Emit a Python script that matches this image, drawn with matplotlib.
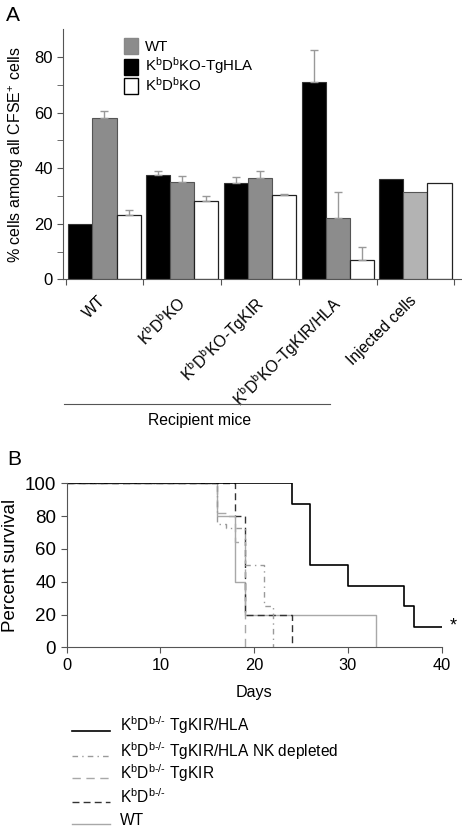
import numpy as np
from matplotlib import pyplot as plt
from matplotlib.lines import Line2D
from matplotlib.patches import Rectangle

plt.rcParams['font.family'] = ['Liberation Sans', 'DejaVu Sans']
plt.rcParams['mathtext.fontset'] = 'custom'
plt.rcParams['mathtext.rm'] = 'Liberation Sans'
plt.rcParams['mathtext.it'] = 'Liberation Sans:italic'
plt.rcParams['font.size'] = 10.5

W, H = 462, 830

# Panel A data
groups = ['WT', r'K$^{\mathrm{b}}$D$^{\mathrm{b}}$KO', r'K$^{\mathrm{b}}$D$^{\mathrm{b}}$KO-TgKIR',
          r'K$^{\mathrm{b}}$D$^{\mathrm{b}}$KO-TgKIR/HLA', 'Injected cells']
tghla_vals = [20, 37.5, 34.5, 71, 36]
tghla_err = [0, 1.5, 2.5, 11.5, 0]
wt_vals = [58, 35, 36.3, 22, 31.3]
wt_err = [2.5, 2.3, 2.7, 9.5, 0]
ko_vals = [23, 28.3, 30.5, 7, 34.5]
ko_err = [2, 1.7, 0.2, 4.5, 0]

# Panel B data (Kaplan-Meier steps)
hla_days = [0, 24, 26, 30, 36, 37, 40]
hla_surv = [100, 87.5, 50, 37.5, 25, 12.5, 12.5]
nk_days = [0, 16, 17, 19, 21, 22]
nk_surv = [100, 75, 73, 50, 25, 0]
kir_days = [0, 16, 17, 18, 19]
kir_surv = [100, 82, 80, 64, 0]
ko_days = [0, 18, 19, 24]
ko_surv = [100, 80, 20, 0]
wt_days = [0, 16, 18, 19, 33]
wt_surv = [100, 80, 40, 20, 0]

fig = plt.figure(figsize=(W / 100, H / 100), dpi=100)

def fx(px):
    return px / W

def fy(py):
    return 1 - py / H

# ---- Panel A
axA = fig.add_axes([0.137, 0.6635, 0.863, 0.3012])
x = np.arange(len(groups))
w = 0.31
gray = '#8c8c8c'
ecol = '#999999'
axA.bar(x - w, tghla_vals, w, color='black', edgecolor='#333333', linewidth=0.8)
axA.bar(x, wt_vals, w, color=[gray, gray, gray, gray, '#b3b3b3'], edgecolor='#555555', linewidth=0.8)
axA.bar(x + w, ko_vals, w, color='white', edgecolor='#222222', linewidth=0.9)
for off, vals, errs in [(-w, tghla_vals, tghla_err), (0, wt_vals, wt_err), (w, ko_vals, ko_err)]:
    for xi, v, e in zip(x, vals, errs):
        if e > 0:
            axA.errorbar(xi + off, v, yerr=[[0], [e]], color=ecol, capsize=3, linewidth=1, capthick=1)

axA.set_ylim(0, 90)
axA.set_xlim(-0.53, 4.6)
axA.set_yticks([0, 20, 40, 60, 80])
axA.set_yticks([10, 30, 50, 70], minor=True)
axA.set_xticks(np.arange(-0.5, 5, 1.0))
axA.set_xticklabels([])
axA.tick_params(axis='x', direction='out', length=4, color='#555555')
axA.tick_params(axis='y', which='both', direction='out', length=4, color='#555555', labelsize=12)
for s in ['top', 'right']:
    axA.spines[s].set_visible(False)
for s in ['left', 'bottom']:
    axA.spines[s].set_color('#555555')
axA.set_ylabel(r'% cells among all CFSE$^{+}$ cells', fontsize=11.5, labelpad=6)
for xi, lab in zip(x, groups):
    axA.text(xi - 0.08, -5, lab, rotation=45, ha='right', va='top', fontsize=11.3,
             rotation_mode='anchor', transform=axA.transData)

# legend A drawn by hand
leg_colors = [gray, 'black', 'white']
leg_edges = ['#888888', 'black', 'black']
leg_labels = ['WT', r'K$^{\mathrm{b}}$D$^{\mathrm{b}}$KO-TgHLA', r'K$^{\mathrm{b}}$D$^{\mathrm{b}}$KO']
sq_tops = [38, 59, 78]
txt_base = [51, 71, 91]
for c, ec, lab, t, b in zip(leg_colors, leg_edges, leg_labels, sq_tops, txt_base):
    fig.add_artist(Rectangle((fx(124), fy(t + 16)), 14 / W, 16 / H, facecolor=c, edgecolor=ec,
                             linewidth=1.0, transform=fig.transFigure))
    fig.text(fx(145), fy(b), lab, fontsize=10.8, va='baseline', ha='left')

fig.text(0.012, 0.993, 'A', fontsize=15, va='top')
fig.add_artist(Line2D([fx(64), fx(330)], [fy(404), fy(404)], color='#555555', linewidth=0.8))
fig.text(fx(200), fy(420), 'Recipient mice', ha='center', va='center', fontsize=11.3)

# ---- Panel B
axB = fig.add_axes([0.1443, 0.2201, 0.8117, 0.1976])
b_styles = [dict(color='black', linewidth=1.2),
            dict(color='#9a9a9a', linewidth=1.0, dashes=(4, 3, 1, 3)),
            dict(color='#a8a8a8', linewidth=1.0, dashes=(6, 4)),
            dict(color='#333333', linewidth=1.0, dashes=(5, 3)),
            dict(color='#a8a8a8', linewidth=1.0)]
b_series = [(hla_days, hla_surv), (nk_days, nk_surv), (kir_days, kir_surv), (ko_days, ko_surv),
            (wt_days, wt_surv)]
for (d, s), st in list(zip(b_series, b_styles))[::-1]:
    axB.step(d, s, where='post', **st)
axB.text(40.9, 13, '*', fontsize=13, ha='left', va='center')
axB.set_xlim(0, 40)
axB.set_ylim(0, 100)
axB.set_xticks([0, 10, 20, 30, 40])
axB.set_yticks([0, 20, 40, 60, 80, 100])
axB.tick_params(direction='out', length=4, color='#555555')
axB.tick_params(axis='y', labelsize=13.5)
axB.tick_params(axis='x', labelsize=11.8)
for s in ['top', 'right']:
    axB.spines[s].set_visible(False)
for s in ['left', 'bottom']:
    axB.spines[s].set_color('#555555')
axB.set_ylabel('Percent survival', fontsize=13.5, labelpad=4)
axB.set_xlabel('Days', fontsize=11.6, labelpad=9)
fig.text(0.016, 0.458, 'B', fontsize=15, va='top')

# legend B drawn by hand
b_labels = [r'K$^{\mathrm{b}}$D$^{\mathrm{b\text{-/-}}}$ TgKIR/HLA',
            r'K$^{\mathrm{b}}$D$^{\mathrm{b\text{-/-}}}$ TgKIR/HLA NK depleted',
            r'K$^{\mathrm{b}}$D$^{\mathrm{b\text{-/-}}}$ TgKIR',
            r'K$^{\mathrm{b}}$D$^{\mathrm{b\text{-/-}}}$',
            'WT']
row_y = [730.5, 755.5, 778, 801.5, 824]
for lab, st, ry in zip(b_labels, b_styles, row_y):
    fig.add_artist(Line2D([fx(72), fx(110)], [fy(ry), fy(ry)], transform=fig.transFigure, **st))
    fig.text(fx(120), fy(ry + 1), lab, fontsize=11.2, va='baseline', ha='left')

plt.savefig('out.png', dpi=100)
